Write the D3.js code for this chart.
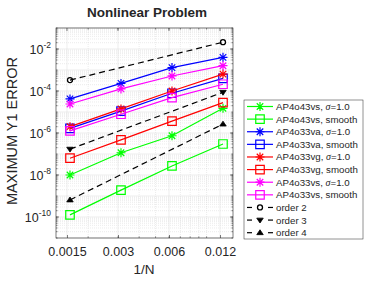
<!DOCTYPE html>
<html>
<head>
<meta charset="utf-8">
<script src="https://cdn.jsdelivr.net/npm/d3@7"></script>
<style>
  body { margin: 0; background: #fff; }
  text { font-family: "Liberation Sans", Arial, Helvetica, sans-serif; fill: #262626; }
</style>
</head>
<body>
<div id="chart"></div>
<script>
// 1/N values
var invN = [0.0015625, 0.003125, 0.00625, 0.0125];
var xTicks = [0.0015, 0.003, 0.006, 0.012];
var xTickLabels = ["0.0015", "0.003", "0.006", "0.012"];
var yTickExps = [-10, -8, -6, -4, -2];

var ap4o43vsSigma  = [1.0e-8, 1.15e-7, 7.4e-7, 1.5e-5];
var ap4o43vsSmooth = [1.26e-10, 1.9e-9, 2.7e-8, 3.0e-7];
var ap4o33vaSigma  = [4.2e-5, 2.3e-4, 1.3e-3, 4.0e-3];
var ap4o33vaSmooth = [1.66e-6, 1.1e-5, 7.8e-5, 4.0e-4];
var ap4o33vgSigma  = [2.0e-6, 1.4e-5, 1.0e-4, 6.4e-4];
var ap4o33vgSmooth = [6.3e-8, 4.7e-7, 3.7e-6, 2.8e-5];
var ap4o33vsSigma  = [2.4e-5, 1.26e-4, 5.2e-4, 1.6e-3];
var ap4o33vsSmooth = [1.26e-6, 7.8e-6, 4.8e-5, 2.1e-4];

// reference slopes, drawn between first and last 1/N
var refX = [0.0015625, 0.0125];
var order2 = [3.3e-4, 2.11e-2];
var order3 = [1.7e-7, 8.7e-5];
var order4 = [6.5e-10, 2.66e-6];

var series = [
  {name: "AP4o43vs", sigma: true,  color: "#00ff00", marker: "star",   x: invN, y: ap4o43vsSigma},
  {name: "AP4o43vs, smooth",       color: "#00ff00", marker: "square", x: invN, y: ap4o43vsSmooth},
  {name: "AP4o33va", sigma: true,  color: "#0000ff", marker: "star",   x: invN, y: ap4o33vaSigma},
  {name: "AP4o33va, smooth",       color: "#0000ff", marker: "square", x: invN, y: ap4o33vaSmooth},
  {name: "AP4o33vg", sigma: true,  color: "#ff0000", marker: "star",   x: invN, y: ap4o33vgSigma},
  {name: "AP4o33vg, smooth",       color: "#ff0000", marker: "square", x: invN, y: ap4o33vgSmooth},
  {name: "AP4o33vs", sigma: true,  color: "#ff00ff", marker: "star",   x: invN, y: ap4o33vsSigma},
  {name: "AP4o33vs, smooth",       color: "#ff00ff", marker: "square", x: invN, y: ap4o33vsSmooth},
  {name: "order 2", dashed: true,  color: "#000000", marker: "circle", x: refX, y: order2},
  {name: "order 3", dashed: true,  color: "#000000", marker: "tridown", x: refX, y: order3},
  {name: "order 4", dashed: true,  color: "#000000", marker: "triup", x: refX, y: order4}
];

var margin = {top: 28, right: 149, bottom: 43, left: 56},
    width = 382 - margin.left - margin.right,
    height = 281 - margin.top - margin.bottom;

var xScale = d3.scaleLog().domain([0.001292, 0.01432]).range([0, width]);
var yScale = d3.scaleLog().domain([1e-11, 1e-1]).range([height, 0]);

var svg = d3.select("#chart").append("svg")
    .attr("width", 382)
    .attr("height", 281);

var g = svg.append("g")
    .attr("transform", "translate(" + margin.left + "," + margin.top + ")");

// minor grid
var xMinor = [0.002, 0.004, 0.005, 0.007, 0.008, 0.009, 0.01];
var yMinor = [];
for (var e = -11; e < -1; e++) {
    for (var m = 2; m <= 9; m++) yMinor.push(m * Math.pow(10, e));
}
var yMajor = d3.range(-11, 0).map(function(k) { return Math.pow(10, k); });

g.selectAll(".xminor").data(xMinor).enter().append("line")
    .attr("x1", function(d) { return xScale(d); }).attr("x2", function(d) { return xScale(d); })
    .attr("y1", 0).attr("y2", height)
    .attr("stroke", "#d8d8d8").attr("stroke-width", 0.5).attr("stroke-dasharray", "1,1");
g.selectAll(".yminor").data(yMinor).enter().append("line")
    .attr("y1", function(d) { return yScale(d); }).attr("y2", function(d) { return yScale(d); })
    .attr("x1", 0).attr("x2", width)
    .attr("stroke", "#d8d8d8").attr("stroke-width", 0.5).attr("stroke-dasharray", "1,1");
g.selectAll(".xmajor").data(xTicks).enter().append("line")
    .attr("x1", function(d) { return xScale(d); }).attr("x2", function(d) { return xScale(d); })
    .attr("y1", 0).attr("y2", height)
    .attr("stroke", "#e3e3e3").attr("stroke-width", 0.6);
g.selectAll(".ymajor").data(yMajor).enter().append("line")
    .attr("y1", function(d) { return yScale(d); }).attr("y2", function(d) { return yScale(d); })
    .attr("x1", 0).attr("x2", width)
    .attr("stroke", "#e3e3e3").attr("stroke-width", 0.6);

// box
g.append("rect").attr("width", width).attr("height", height)
    .attr("fill", "none").attr("stroke", "#262626").attr("stroke-width", 0.6);

// x axis ticks (inward, bottom and top)
var xAxis = d3.axisBottom(xScale).tickValues(xTicks)
    .tickFormat(function(d, i) { return xTickLabels[i]; })
    .tickSizeInner(-3).tickSizeOuter(0).tickPadding(9);
var xg = g.append("g").attr("transform", "translate(0," + height + ")").call(xAxis);
xg.select(".domain").remove();
xg.selectAll("line").attr("stroke", "#262626").attr("stroke-width", 0.6);
xg.selectAll("text").style("font-size", "12.5px").attr("fill", "#262626")
    .style("font-family", "'Liberation Sans', Arial, sans-serif");

[0, height].forEach(function(yy, k) {
    var dir = k === 0 ? 1 : -1;
    g.selectAll(null).data(xMinor.concat([0.003, 0.006])).enter().append("line")
        .attr("x1", function(d) { return xScale(d); }).attr("x2", function(d) { return xScale(d); })
        .attr("y1", yy).attr("y2", yy + dir * 1.6)
        .attr("stroke", "#262626").attr("stroke-width", 0.5);
});
g.selectAll(null).data(xTicks).enter().append("line")
    .attr("x1", function(d) { return xScale(d); }).attr("x2", function(d) { return xScale(d); })
    .attr("y1", 0).attr("y2", 3)
    .attr("stroke", "#262626").attr("stroke-width", 0.6);

// y ticks (inward left and right)
[0, width].forEach(function(xx, k) {
    var dir = k === 0 ? 1 : -1;
    g.selectAll(null).data(yTickExps).enter().append("line")
        .attr("y1", function(d) { return yScale(Math.pow(10, d)); })
        .attr("y2", function(d) { return yScale(Math.pow(10, d)); })
        .attr("x1", xx).attr("x2", xx + dir * 3)
        .attr("stroke", "#262626").attr("stroke-width", 0.6);
    g.selectAll(null).data(yMinor.concat(yMajor)).enter().append("line")
        .attr("y1", function(d) { return yScale(d); }).attr("y2", function(d) { return yScale(d); })
        .attr("x1", xx).attr("x2", xx + dir * 1.6)
        .attr("stroke", "#262626").attr("stroke-width", 0.5);
});

var yLab = g.selectAll(".ylab").data(yTickExps).enter().append("text")
    .attr("x", -5)
    .attr("y", function(d) { return yScale(Math.pow(10, d)) + 5; })
    .attr("text-anchor", "end");
yLab.append("tspan").style("font-size", "12.5px").text("10");
yLab.append("tspan").style("font-size", "8.5px").attr("dy", -6)
    .text(function(d) { return "-" + Math.abs(d); });

// marker paths
function markerPath(type, s) {
    var h = s / 2, d = h * 0.72;
    if (type === "star")
        return "M" + (-h) + ",0H" + h + "M0," + (-h) + "V" + h +
               "M" + (-d) + "," + (-d) + "L" + d + "," + d + "M" + (-d) + "," + d + "L" + d + "," + (-d);
    if (type === "square")
        return "M" + (-h) + "," + (-h) + "H" + h + "V" + h + "H" + (-h) + "Z";
    if (type === "circle")
        return d3.arc()({innerRadius: 0, outerRadius: h, startAngle: 0, endAngle: 2 * Math.PI});
    if (type === "tridown")
        return "M" + (-h) + "," + (-h * 0.6) + "H" + h + "L0," + (h * 0.9) + "Z";
    if (type === "triup")
        return "M" + (-h) + "," + (h * 0.6) + "H" + h + "L0," + (-h * 0.9) + "Z";
}
function markerSize(type) {
    return {star: 9, square: 8.5, circle: 5, tridown: 6.5, triup: 6.5}[type];
}
function drawMarker(sel, s, x, y) {
    var p = sel.append("path")
        .attr("transform", "translate(" + x + "," + y + ")")
        .attr("d", markerPath(s.marker, markerSize(s.marker)))
        .attr("stroke", s.color);
    if (s.marker === "tridown" || s.marker === "triup")
        p.attr("fill", s.color).attr("stroke-width", 0.8);
    else
        p.attr("fill", "none").attr("stroke-width", s.marker === "circle" ? 1.3 : 1.2);
}

var line = d3.line()
    .x(function(d) { return xScale(d[0]); })
    .y(function(d) { return yScale(d[1]); });

series.forEach(function(s) {
    var pts = s.x.map(function(x, i) { return [x, s.y[i]]; });
    g.append("path").datum(pts)
        .attr("d", line)
        .attr("fill", "none")
        .attr("stroke", s.color)
        .attr("stroke-width", 1.2)
        .attr("stroke-dasharray", s.dashed ? "6,4" : null);
    pts.forEach(function(p) { drawMarker(g, s, xScale(p[0]), yScale(p[1])); });
});

// title and labels
svg.append("text").attr("x", 147).attr("y", 17)
    .attr("text-anchor", "middle")
    .style("font-size", "13.5px").style("font-weight", "bold").attr("fill", "#000")
    .text("Nonlinear Problem");

svg.append("text").attr("x", 144).attr("y", 274)
    .attr("text-anchor", "middle")
    .style("font-size", "13.5px")
    .text("1/N");

svg.append("text")
    .attr("transform", "translate(17," + 131 + ") rotate(-90)")
    .attr("text-anchor", "middle")
    .style("font-size", "14.5px")
    .text("MAXIMUM Y1 ERROR");

// legend
var lg = svg.append("g");
lg.append("rect").attr("x", 244).attr("y", 100).attr("width", 119).attr("height", 139)
    .attr("fill", "#fff").attr("stroke", "#262626").attr("stroke-width", 0.5);

series.forEach(function(s, i) {
    var yy = 106.5 + i * 12.62;
    if (s.dashed) {
        lg.append("line").attr("x1", 247).attr("x2", 252).attr("y1", yy).attr("y2", yy)
            .attr("stroke", s.color).attr("stroke-width", 1.2);
        lg.append("line").attr("x1", 268).attr("x2", 273).attr("y1", yy).attr("y2", yy)
            .attr("stroke", s.color).attr("stroke-width", 1.2);
    } else {
        lg.append("line").attr("x1", 247).attr("x2", 273).attr("y1", yy).attr("y2", yy)
            .attr("stroke", s.color).attr("stroke-width", 1.2);
    }
    drawMarker(lg, s, 260, yy);
    var t = lg.append("text").attr("x", 276).attr("y", yy + 3.5)
        .style("font-size", "9.7px").attr("fill", "#000");
    if (s.sigma) {
        t.append("tspan").text(s.name + ", ");
        t.append("tspan").style("font-family", "'Liberation Serif', 'DejaVu Serif', serif")
            .style("font-style", "italic").style("font-size", "10px").text("σ");
        t.append("tspan").text("=1.0");
    } else {
        t.text(s.name);
    }
});
</script>
</body>
</html>
